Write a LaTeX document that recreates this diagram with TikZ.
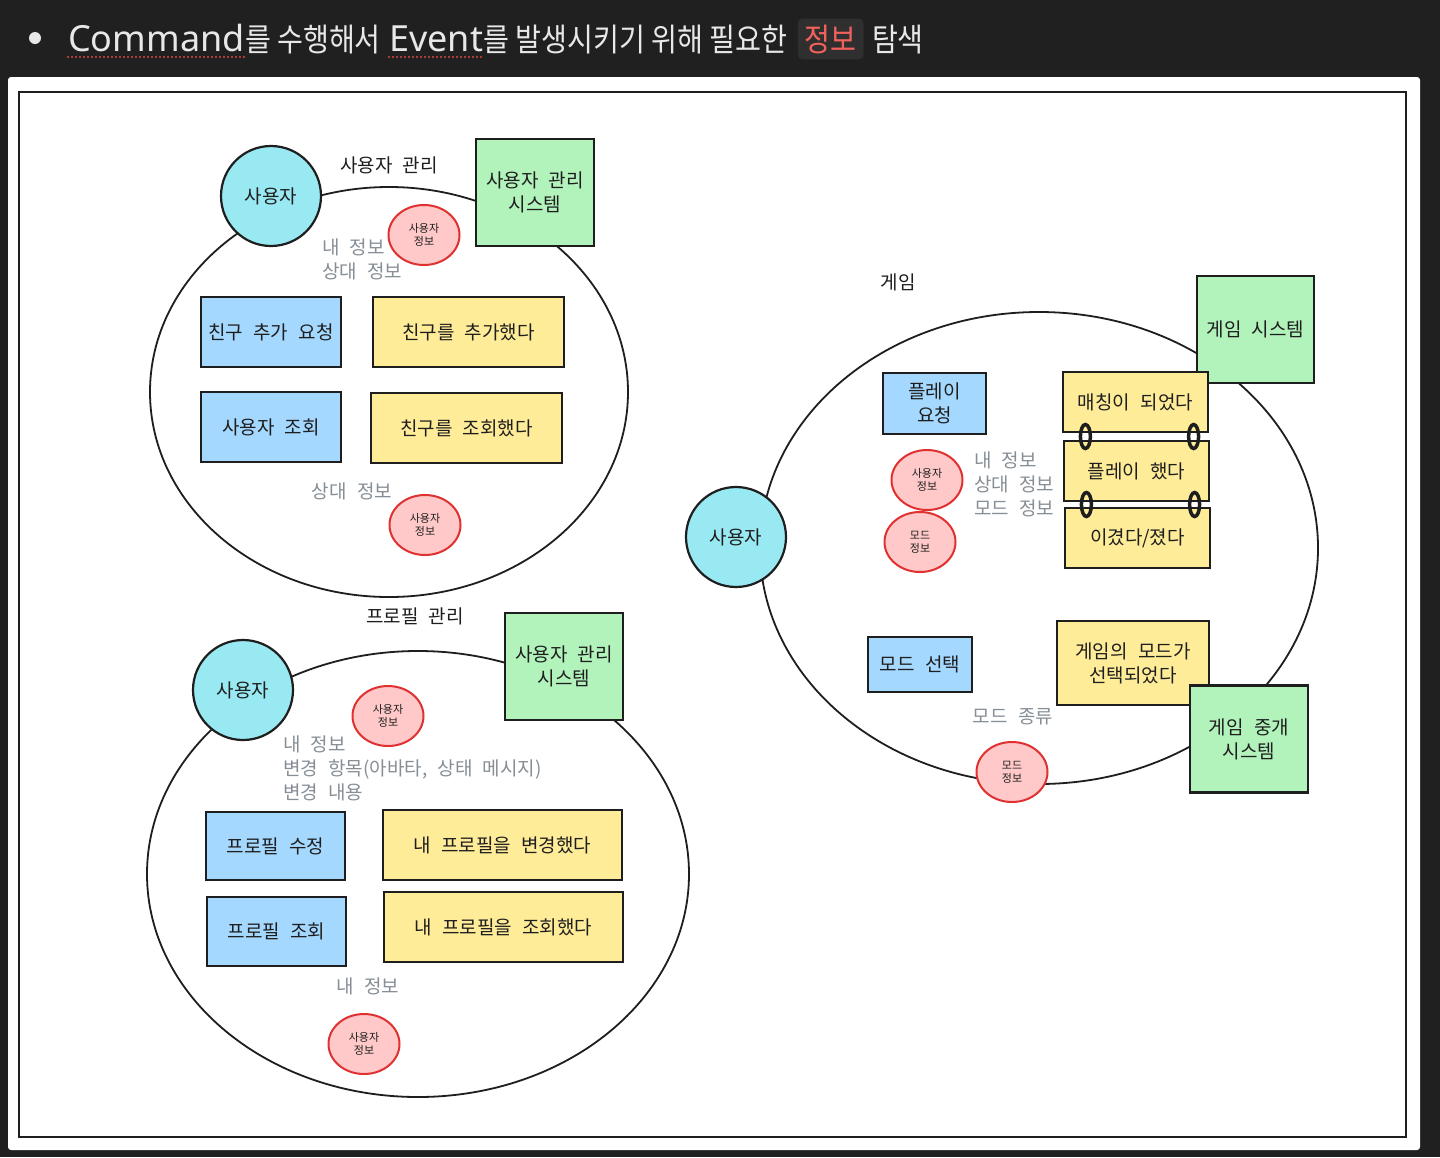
\documentclass[tikz,border=0pt]{standalone}
\usepackage{fontspec}
\setmainfont[WordSpace=2.4]{Noto Sans CJK KR}
\newfontfamily\titlehanfont[FakeStretch=0.88]{Noto Sans CJK KR}
\newfontfamily\titlelatinfont{Noto Sans}
\usepackage{tikz}
\usetikzlibrary{calc}
\usetikzlibrary{shapes.geometric}

\definecolor{pagebg}{HTML}{202020}
\definecolor{titletext}{HTML}{E8E8E8}
\definecolor{tagbg}{HTML}{2F2F2F}
\definecolor{tagred}{HTML}{F2615B}
\definecolor{squiggle}{HTML}{D9473F}
\definecolor{actorcyan}{HTML}{99E9F2}
\definecolor{systemgreen}{HTML}{B2F2BB}
\definecolor{commandblue}{HTML}{A5D8FF}
\definecolor{eventyellow}{HTML}{FFEC99}
\definecolor{infofill}{HTML}{FFC9C9}
\definecolor{infored}{HTML}{E03131}
\definecolor{notegray}{HTML}{868E96}
\definecolor{ink}{HTML}{1E1E1E}

\begin{document}
\begin{tikzpicture}[x=1pt, y=-1pt,
	every node/.style={text=ink},
	titlelatin/.style={anchor=base west, inner sep=0pt, text=titletext, font=\titlelatinfont\fontsize{36}{36}\selectfont},
	titlehan/.style={anchor=base west, inner sep=0pt, text=titletext, font=\titlehanfont\fontsize{32}{32}\selectfont},
	tagbox/.style={anchor=base west, fill=tagbg, rounded corners=5pt, inner xsep=7pt, inner ysep=6pt, text=tagred, font=\titlehanfont\fontsize{32}{32}\selectfont},
	bubble/.style={draw=ink, line width=1.8pt},
	actor/.style={circle, draw=ink, line width=2.2pt, fill=actorcyan, minimum size=100pt, inner sep=0pt},
	system/.style={rectangle, draw=ink, line width=2.2pt, fill=systemgreen, minimum width=118pt, minimum height=107pt, align=center},
	command/.style={rectangle, draw=ink, line width=2.2pt, fill=commandblue, minimum width=140pt, minimum height=70pt, align=center},
	event/.style={rectangle, draw=ink, line width=2.2pt, fill=eventyellow, minimum height=70pt, align=center},
	info/.style={ellipse, draw=infored, line width=2pt, fill=infofill, minimum width=71pt, minimum height=60pt, inner sep=0pt, align=center, font=\fontsize{11}{13}\selectfont},
	note/.style={text=notegray, align=left, anchor=west, inner sep=0pt},
	grouptitle/.style={inner sep=0pt},
	ring/.style={draw=ink, line width=3.5pt}
]\fontsize{19}{24}\selectfont

			\useasboundingbox (0,0) rectangle (1440,1157);
			\fill[pagebg] (0,0) rectangle (1440,1157);
			\fill[white, rounded corners=3pt] (8,77) rectangle (1420,1150);
			\draw[ink, line width=2pt] (19,92) rectangle (1406,1137);

			\fill[titletext] (35,38) circle (6);
			\node[titlelatin] (cmd) at (68,51) {Command};
			\node[titlehan] (cmdtail) at (cmd.base east) {를 수행해서};
			\node[titlelatin] (evt) at ([xshift=8pt]cmdtail.base east) {Event};
			\node[titlehan] (evttail) at (evt.base east) {를 발생시키기 위해 필요한};
			\node[tagbox] (tag) at ([xshift=10pt]evttail.base east) {정보};
			\node[titlehan] (seek) at ([xshift=8pt]tag.base east) {탐색};
			\draw[squiggle, line width=2.2pt, line cap=round, dash pattern=on 0pt off 4pt] ([yshift=-6pt]cmd.base west) -- ([yshift=-6pt]cmd.base east);
			\draw[squiggle, line width=2.2pt, line cap=round, dash pattern=on 0pt off 4pt] ([yshift=-6pt]evt.base west) -- ([yshift=-6pt]evt.base east);

			\draw[bubble] (389,392) ellipse [x radius=239, y radius=205];
			\node[grouptitle] (umtitle) at (389,165) {사용자 관리};
			\node[actor] (user1) at (271,196) {사용자};
			\node[system] (ums1) at (535,192.5) {사용자 관리\\시스템};
			\node[info] (info1) at (424,235) {사용자\\정보};
			\node[note] (note1) at (322,259) {내 정보\\상대 정보};
			\node[command] (addreq) at (271,332) {친구 추가 요청};
			\node[event, minimum width=191pt] (added) at (468.5,332) {친구를 추가했다};
			\node[command] (userq) at (271,427) {사용자 조회};
			\node[event, minimum width=191pt] (friendq) at (466.5,428) {친구를 조회했다};
			\node[note, anchor=center] (note2) at (352,491) {상대 정보};
			\node[info] (info2) at (425,525) {사용자\\정보};

			\draw[bubble] (418,874) ellipse [x radius=271, y radius=223];
			\node[grouptitle] (pmtitle) at (415,616) {프로필 관리};
			\node[actor] (user2) at (243,690) {사용자};
			\node[system] (ums2) at (564,666.5) {사용자 관리\\시스템};
			\node[info] (info3) at (388,716) {사용자\\정보};
			\node[note] (note3) at (283,768) {내 정보\\변경 항목(아바타, 상태 메시지)\\변경 내용};
			\node[command, minimum width=139pt, minimum height=68pt] (editp) at (275.5,846) {프로필 수정};
			\node[event, minimum width=239pt] (editedp) at (502.5,845) {내 프로필을 변경했다};
			\node[command, minimum width=139pt, minimum height=69pt] (viewp) at (276.5,931.5) {프로필 조회};
			\node[event, minimum width=239pt] (viewedp) at (503.5,927) {내 프로필을 조회했다};
			\node[note, anchor=center] (note4) at (368,986) {내 정보};
			\node[info] (info4) at (364,1044) {사용자\\정보};

			\draw[bubble] (1039,548) ellipse [x radius=279, y radius=236];
			\node[grouptitle] (gtitle) at (898,282) {게임};
			\node[system, minimum width=117pt] (gsys) at (1255.5,329.5) {게임 시스템};
			\node[command, minimum width=103pt, minimum height=61pt] (playreq) at (934.5,403.5) {플레이\\요청};
			\node[event, minimum width=145pt, minimum height=60pt] (matched) at (1135.5,402) {매칭이 되었다};
			\node[event, minimum width=145pt, minimum height=60pt] (played) at (1136.5,471) {플레이 했다};
			\node[event, minimum width=145pt, minimum height=60pt] (result) at (1137.5,538) {이겼다/졌다};
			\coordinate (linka) at ($(matched.south west)!0.5!(played.north west)$);
			\coordinate (linkb) at ($(matched.south east)!0.5!(played.north east)$);
			\coordinate (linkc) at ($(played.south west)!0.5!(result.north west)$);
			\coordinate (linkd) at ($(played.south east)!0.5!(result.north east)$);
			\draw[ring] ([xshift=23pt]linka) ellipse [x radius=5, y radius=12];
			\draw[ring] ([xshift=-16pt]linkb) ellipse [x radius=5, y radius=12];
			\draw[ring] ([xshift=23pt]linkc) ellipse [x radius=5, y radius=12];
			\draw[ring] ([xshift=-16pt]linkd) ellipse [x radius=5, y radius=12];
			\node[info] (info5) at (927,480) {사용자\\정보};
			\node[info] (info6) at (920,542) {모드\\정보};
			\node[note] (note5) at (974,484) {내 정보\\상대 정보\\모드 정보};
			\node[actor] (user3) at (736,537) {사용자};
			\node[command, minimum width=104pt, minimum height=55pt] (modesel) at (920,664.5) {모드 선택};
			\node[event, minimum width=152pt, minimum height=84pt] (modesel2) at (1133,663) {게임의 모드가\\선택되었다};
			\node[system] (broker) at (1249,739) {게임 중개\\시스템};
			\node[note, anchor=center] (note6) at (1013,717) {모드 종류};
			\node[info] (info7) at (1012,772) {모드\\정보};
		\end{tikzpicture}
\end{document}
